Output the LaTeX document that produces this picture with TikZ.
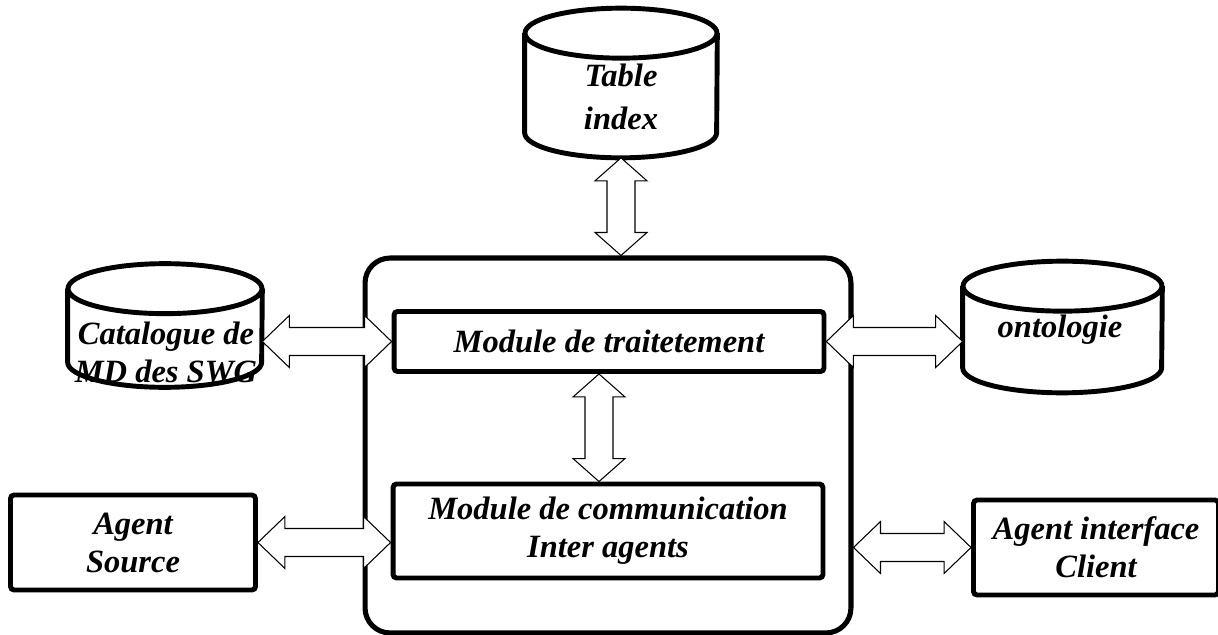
\documentclass[tikz,border=0pt]{standalone}
\usepackage{fontspec}
\setmainfont{Liberation Serif}
\usepackage{tikz}
\usetikzlibrary{calc}

\begin{document}
\begin{tikzpicture}
[x=0.02cm,y=-0.02cm,
 every node/.style={font=\fontsize{18.5pt}{21.6pt}\selectfont\bfseries\itshape,align=center},
 frame/.style={rectangle,draw,line width=2.9pt,rounded corners=0.5cm,minimum width=9.72cm,minimum height=7.5cm},
 module/.style={rectangle,draw,fill=white,line width=2.8pt,rounded corners=2pt,minimum width=8.6cm},
 agentbox/.style={rectangle,draw,fill=white,line width=2.8pt,rounded corners=2pt,minimum width=4.9cm,minimum height=1.9cm},
 dbase/.style={rectangle,inner sep=0pt},
 dbline/.style={line width=2.8pt,x=1cm,y=1cm},
 harrow/.style={draw,fill=white,line width=0.6pt,to path={let \p1=(\tikztostart),\p2=(\tikztotarget) in
   (\x1,\y1) -- (\x1+0.54cm,\y1+0.52cm) -- (\x1+0.54cm,\y1+0.28cm) -- (\x2-0.54cm,\y1+0.28cm)
   -- (\x2-0.54cm,\y1+0.52cm) -- (\x2,\y1) -- (\x2-0.54cm,\y1-0.52cm) -- (\x2-0.54cm,\y1-0.28cm)
   -- (\x1+0.54cm,\y1-0.28cm) -- (\x1+0.54cm,\y1-0.52cm) -- cycle}},
 varrow/.style={draw,fill=white,line width=0.6pt,to path={let \p1=(\tikztostart),\p2=(\tikztotarget) in
   (\x1,\y1) -- (\x1+0.52cm,\y1-0.46cm) -- (\x1+0.28cm,\y1-0.46cm) -- (\x1+0.28cm,\y2+0.46cm)
   -- (\x1+0.52cm,\y2+0.46cm) -- (\x1,\y2) -- (\x1-0.52cm,\y2+0.46cm) -- (\x1-0.28cm,\y2+0.46cm)
   -- (\x1-0.28cm,\y1-0.46cm) -- (\x1-0.52cm,\y1-0.46cm) -- cycle}}]
\useasboundingbox (0,0) rectangle (1218,635);
\node[frame] (agent) at (608,445.5) {};
\node[module,minimum height=1.2cm]  (trait) at (609,341.5) {Module de traitetement};
\node[module,minimum height=1.88cm] (comm)  at (608,531) {Module de communication\\Inter agents};
\node[agentbox] (src) at (133,542.5) {Agent\\Source};
\node[agentbox] (cli) at (1096,547.5) {Agent interface\\Client};
% bases de donnees
\node[dbase,minimum width=3.84cm,minimum height=2.98cm] (tbl)  at (621,83) {};
\node[dbase,minimum width=3.88cm,minimum height=2.46cm] (cat)  at (165,325.5) {};
\node[dbase,minimum width=3.98cm,minimum height=2.62cm] (onto) at (1062.5,327) {};
\foreach \db/\r in {tbl/1.92cm,cat/1.94cm,onto/1.99cm}
  \draw[dbline] ([yshift=-0.5cm]\db.north) ellipse [x radius=\r,y radius=0.5cm]
    ([yshift=-0.5cm]\db.north west) -- ([yshift=0.5cm]\db.south west)
    arc[start angle=180,end angle=360,x radius=\r,y radius=0.5cm]
    -- ([yshift=-0.5cm]\db.north east);
\node (tbltext)  at (621,97)   {Table\\[3pt]index};
\node (cattext)  at (166,352)  {Catalogue de\\MD des SWG};
\node (ontotext) at (1060,330) {ontologie};
% fleches
\coordinate (tblin)    at (tbl.south |- agent.north);
\coordinate (catout)   at (cat.east |- trait.west);
\coordinate (ontoin)   at (onto.west |- trait.east);
\coordinate (traitout) at ([xshift=-0.2cm]trait.south);
\coordinate (commin)   at ([xshift=-0.2cm]comm.north);
\coordinate (srcin)    at (src.east -| comm.west);
\coordinate (cliout)   at (cli.west -| agent.east);
\path (tbl.south)  edge[varrow] (tblin)
      (catout)     edge[harrow] (trait.west)
      (trait.east) edge[harrow] (ontoin)
      (traitout)   edge[varrow] (commin)
      (src.east)   edge[harrow] (srcin)
      (cliout)     edge[harrow] (cli.west);
\end{tikzpicture}
\end{document}
